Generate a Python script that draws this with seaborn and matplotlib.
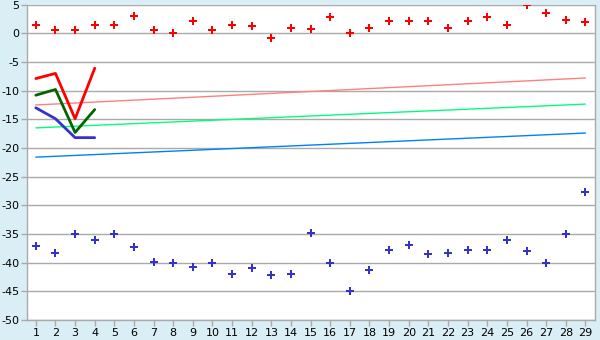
import matplotlib
matplotlib.use("Agg")
import matplotlib.pyplot as plt
import seaborn as sns
import pandas as pd
import numpy as np

days = list(range(1, 30))
red_points = [1.4, 0.5, 0.5, 1.4, 1.4, 3.0, 0.5, 0.0, 2.1, 0.5, 1.4, 1.2, -0.9, 1.0,
              0.7, 2.8, 0.0, 1.0, 2.1, 2.1, 2.1, 0.9, 2.1, 2.8, 1.4, 4.9, 3.5, 2.3, 1.9]
blue_points = [-37.1, -38.3, -35.0, -36.0, -35.0, -37.3, -39.8, -40.0, -40.7, -40.0, -41.9, -40.9, -42.2, -42.0,
               -34.8, -40.0, -45.0, -41.2, -37.8, -36.9, -38.5, -38.3, -37.8, -37.8, -36.0, -38.0, -40.0, -35.0, -27.7]
short_days = [1, 2, 3, 4]
red_line = [-7.9, -7.0, -14.9, -6.1]
green_line = [-10.8, -9.8, -17.3, -13.3]
blue_line = [-13.0, -14.9, -18.2, -18.2]
trend_days = [1, 29]
pink_trend = [-12.5, -7.8]
green_trend = [-16.5, -12.35]
blue_trend = [-21.6, -17.4]
yticks = list(range(5, -55, -5))

sns.set_theme(style="white")
plt.rcParams['font.family'] = ['DejaVu Sans']
plt.rcParams['axes.unicode_minus'] = False

fig = plt.figure(figsize=(6, 3.4), dpi=100, facecolor="#DAEEF5")
ax = fig.add_axes([0.045, 0.0588, 0.947, 0.9277])
ax.set_facecolor("white")

for y in yticks:
    ax.axhline(y, color="#AAAAAA", lw=1, zorder=0)

sns.lineplot(x=trend_days, y=pink_trend, color="#FF8080", lw=1, ax=ax)
sns.lineplot(x=trend_days, y=green_trend, color="#00FF80", lw=1, ax=ax)
sns.lineplot(x=trend_days, y=blue_trend, color="#0080FF", lw=1, ax=ax)

sns.lineplot(x=short_days, y=red_line, color="#FF0000", lw=2, ax=ax)
sns.lineplot(x=short_days, y=green_line, color="#006600", lw=2, ax=ax)
sns.lineplot(x=short_days, y=blue_line, color="#3333CC", lw=2, ax=ax)

sns.scatterplot(x=days, y=red_points, color="#FF0000", marker="P", s=26, linewidth=0, ax=ax)
sns.scatterplot(x=days, y=blue_points, color="#3333CC", marker="P", s=26, linewidth=0, ax=ax)

ax.set_xlim(0.55, 29.5)
ax.set_ylim(-50, 5)
ax.set_xticks(days)
ax.set_xticklabels([str(d) for d in days])
ax.set_yticks(yticks)
ax.set_yticklabels([str(y) for y in yticks])
ax.tick_params(axis="both", labelsize=8, colors="#AAAAAA", labelcolor="black",
               length=4, width=1, direction="out", bottom=True, left=True, pad=1.5)
for side in ["left", "bottom", "right"]:
    ax.spines[side].set_color("#AAAAAA")
    ax.spines[side].set_linewidth(1)
ax.spines["top"].set_visible(False)

fig.savefig("out.png", dpi=100, facecolor=fig.get_facecolor())
